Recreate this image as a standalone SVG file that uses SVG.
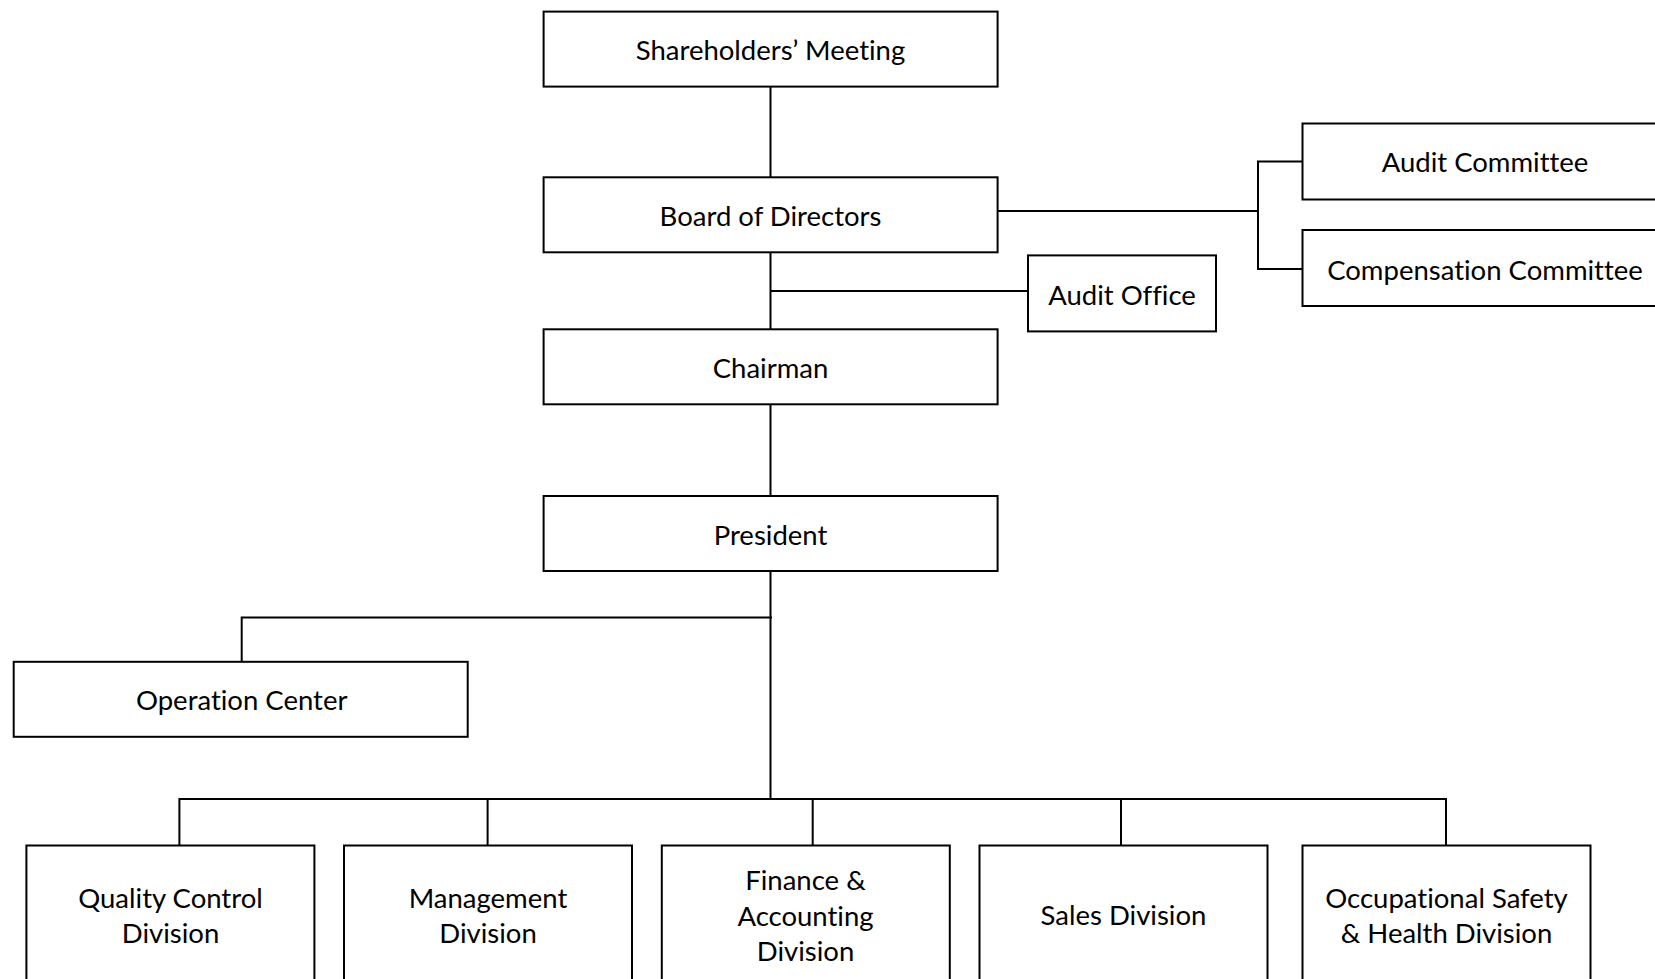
<svg xmlns="http://www.w3.org/2000/svg" width="1655" height="979" viewBox="0 0 1655 979">
<style>
.box{fill:#fff;stroke:#000;stroke-width:2}
.t{font-family:Lato,"Open Sans",sans-serif;font-size:27.5px;fill:#000;text-anchor:middle;dominant-baseline:central;font-variant-ligatures:none}
.c{fill:none;stroke:#000;stroke-width:2}
</style>
<rect width="1655" height="979" fill="#fff"/>
<g id="connectors">
<path class="c" d="M770.5 87V177"/>
<path class="c" d="M770.5 252V329"/>
<path class="c" d="M770.5 291H1028"/>
<path class="c" d="M997.5 211H1258"/>
<path class="c" d="M1302.5 161.5H1258V269H1302.5"/>
<path class="c" d="M770.5 404V496"/>
<path class="c" d="M770.5 571V799"/>
<path class="c" d="M772 617.5H241.7V662"/>
<path class="c" d="M179.4 845.5V799H1446V845.5"/>
<path class="c" d="M487.6 799V845.5"/>
<path class="c" d="M812.7 799V845.5"/>
<path class="c" d="M1121 799V845.5"/>
</g>
<g id="shareholders"><rect class="box" x="543.6" y="11.6" width="454" height="75"/><text class="t" x="770.5" y="49.5">Shareholders’ Meeting</text></g>
<g id="board"><rect class="box" x="543.6" y="177.3" width="454" height="75"/><text class="t" x="770.5" y="215.2">Board of Directors</text></g>
<g id="audit-committee"><rect class="box" x="1302.5" y="123.5" width="360" height="76"/><text class="t" x="1485" y="161.5">Audit Committee</text></g>
<g id="compensation-committee"><rect class="box" x="1302.5" y="230" width="360" height="76"/><text class="t" x="1485" y="269">Compensation Committee</text></g>
<g id="audit-office"><rect class="box" x="1028" y="255.4" width="188" height="76"/><text class="t" x="1122" y="294.5">Audit Office</text></g>
<g id="chairman"><rect class="box" x="543.6" y="329.3" width="454" height="75"/><text class="t" x="770.5" y="367.3">Chairman</text></g>
<g id="president"><rect class="box" x="543.6" y="496" width="454" height="75"/><text class="t" x="770.5" y="534">President</text></g>
<g id="operation-center"><rect class="box" x="13.7" y="661.8" width="454" height="75"/><text class="t" x="241.7" y="699.8">Operation Center</text></g>
<g id="quality-control"><rect class="box" x="26.4" y="845.5" width="288" height="140"/><text class="t" x="170.5"><tspan x="170.5" y="897.2">Quality Control</tspan><tspan x="170.5" y="932">Division</tspan></text></g>
<g id="management"><rect class="box" x="344" y="845.5" width="288" height="140"/><text class="t"><tspan x="488" y="897.2">Management</tspan><tspan x="488" y="932">Division</tspan></text></g>
<g id="finance"><rect class="box" x="661.8" y="845.5" width="288" height="140"/><text class="t"><tspan x="805.5" y="879.3">Finance &amp;</tspan><tspan x="805.5" y="914.7">Accounting</tspan><tspan x="805.5" y="950">Division</tspan></text></g>
<g id="sales"><rect class="box" x="979.5" y="845.5" width="288" height="140"/><text class="t" x="1123.5" y="914">Sales Division</text></g>
<g id="osh"><rect class="box" x="1302.5" y="845.5" width="288" height="140"/><text class="t"><tspan x="1446.5" y="897.2">Occupational Safety</tspan><tspan x="1446.5" y="932">&amp; Health Division</tspan></text></g>
</svg>
